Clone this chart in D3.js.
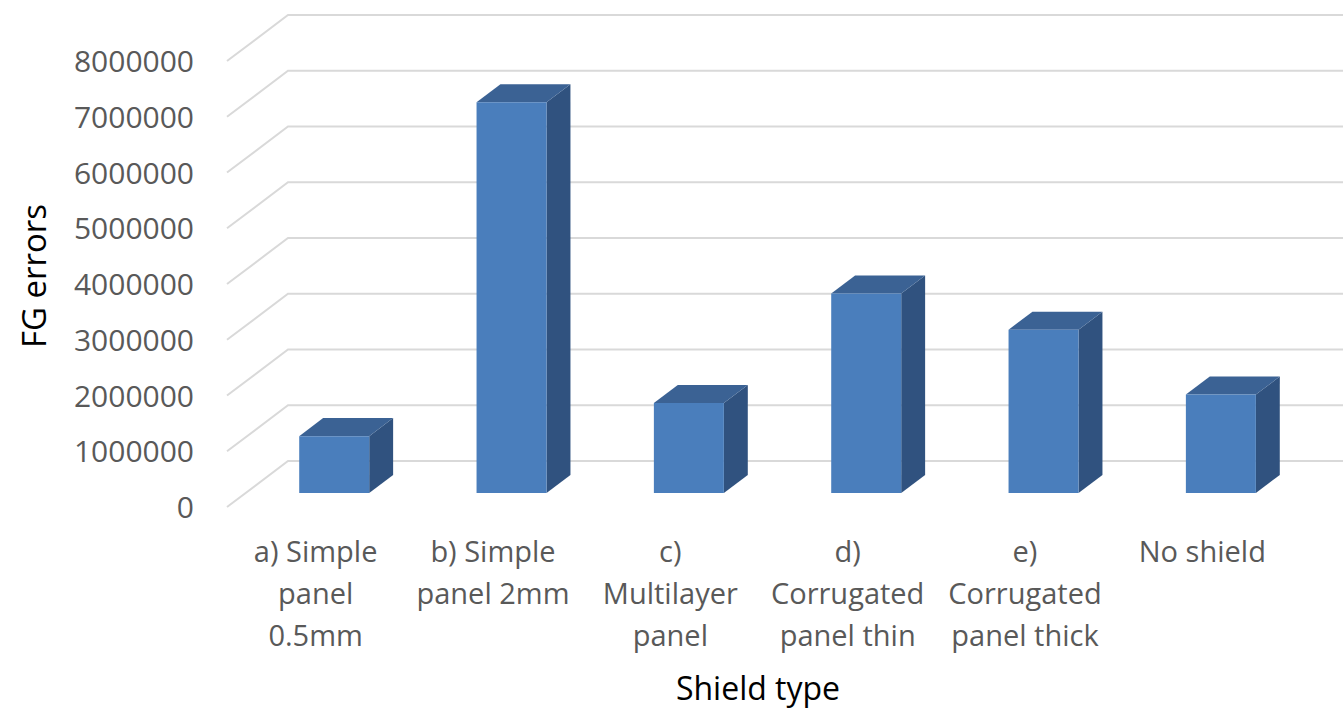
<!DOCTYPE html>
<html>
<head>
<meta charset="utf-8">
<script src="https://cdn.jsdelivr.net/npm/d3@7"></script>
<style>
  html, body { margin: 0; padding: 0; background: #fff; }
  svg { display: block; }
  text { font-family: "Open Sans", "Noto Sans", sans-serif; }
</style>
</head>
<body>
<svg id="chart" width="1343" height="710"></svg>
<script>
// Shield types and their FG error counts
const categories = [
  "a) Simple panel 0.5mm",
  "b) Simple panel 2mm",
  "c) Multilayer panel",
  "d) Corrugated panel thin",
  "e) Corrugated panel thick",
  "No shield"
];
const categoryLines = [
  ["a) Simple", "panel", "0.5mm"],
  ["b) Simple", "panel 2mm"],
  ["c)", "Multilayer", "panel"],
  ["d)", "Corrugated", "panel thin"],
  ["e)", "Corrugated", "panel thick"],
  ["No shield"]
];
const fgErrors = [1020000, 7010000, 1615000, 3580000, 2930000, 1765000];
const yTicks = [0, 1000000, 2000000, 3000000, 4000000, 5000000, 6000000, 7000000, 8000000];

const svg = d3.select("#chart");

// Oblique 3D projection: front plane -> back wall offset
const depthDX = 61, depthDY = -46;
const barFront = 0.304, barBack = 0.696;   // bar depth within the floor (fraction)

const y = d3.scaleLinear().domain([0, 8000000]).range([507, 61]);
const x = d3.scaleBand().domain(categories).range([227, 1291]).paddingInner(0).paddingOuter(0);
const barW = 70;

const proj = (px, py, t) => [px + t * depthDX, py + t * depthDY];

// Gridlines: diagonal on the left side wall, horizontal on the back wall
const grid = svg.append("g");
yTicks.forEach(v => {
  const [bx, by] = proj(x.range()[0], y(v), 1);
  grid.append("path")
    .attr("d", d3.line()([[x.range()[0], y(v)], [bx, by], [x.range()[1] + depthDX, by]]))
    .attr("fill", "none")
    .attr("stroke", "#d9d9d9")
    .attr("stroke-width", 2);
});

// Value axis labels
const yAxis = d3.axisLeft(y).tickValues(yTicks).tickFormat(d3.format("d")).tickSize(0).tickPadding(0);
const yg = svg.append("g").attr("transform", "translate(194,0)").call(yAxis);
yg.select(".domain").remove();
yg.selectAll("text")
  .attr("fill", "#595959")
  .style("font-size", "30px")
  .style("font-family", "'Open Sans', sans-serif")
  .attr("dy", "0.35em");

// Bars (front face, top, right side)
const bars = svg.append("g");
categories.forEach((c, i) => {
  const v = fgErrors[i];
  const x0 = x(c) + x.bandwidth() / 2 - barW / 2;
  const x1 = x0 + barW;
  const fBL = proj(x0, y(0), barFront), fBR = proj(x1, y(0), barFront);
  const fTL = proj(x0, y(v), barFront), fTR = proj(x1, y(v), barFront);
  const bTL = proj(x0, y(v), barBack), bTR = proj(x1, y(v), barBack);
  const bBR = proj(x1, y(0), barBack);
  const line = d3.line();
  bars.append("path").attr("d", line([fTR, bTR, bBR, fBR]) + "Z").attr("fill", "#30527f");
  bars.append("path").attr("d", line([fTL, bTL, bTR, fTR]) + "Z").attr("fill", "#3b6294");
  bars.append("path").attr("d", line([fBL, fTL, fTR, fBR]) + "Z").attr("fill", "#4a7ebc");
});

// Category labels
const cg = svg.append("g");
categories.forEach((c, i) => {
  const cx = x(c) + x.bandwidth() / 2;
  const t = cg.append("text")
    .attr("x", cx)
    .attr("text-anchor", "middle")
    .attr("fill", "#595959")
    .style("font-size", "29px");
  categoryLines[i].forEach((ln, k) => {
    t.append("tspan")
      .attr("x", cx)
      .attr("y", 562 + k * 42)
      .text(ln);
  });
});

// Axis titles
svg.append("text")
  .attr("transform", "translate(46,276) rotate(-90)")
  .attr("text-anchor", "middle")
  .attr("fill", "#000")
  .style("font-size", "33px")
  .text("FG errors");

svg.append("text")
  .attr("x", 758)
  .attr("y", 700)
  .attr("text-anchor", "middle")
  .attr("fill", "#000")
  .style("font-size", "32px")
  .text("Shield type");
</script>
</body>
</html>
